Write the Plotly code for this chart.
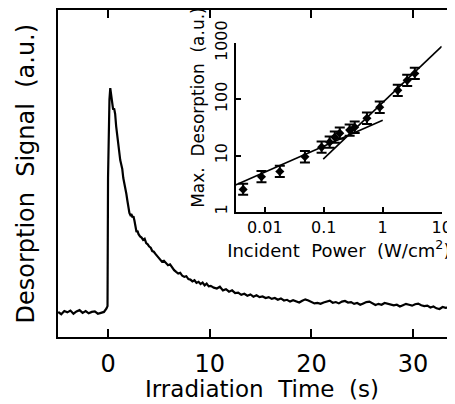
import plotly.graph_objects as go

# ---- main transient (time in s, signal in a.u., baseline = 0, peak = 1) ----
time_s = [-4.9, -4.6, -4.3, -4.0, -3.7, -3.4, -3.1, -2.8, -2.5, -2.2, -1.9, -1.6, -1.3, -1.0, -0.7, -0.4, -0.15,
          -0.05, 0.0, 0.06, 0.14, 0.22, 0.3, 0.4, 0.5, 0.6, 0.7, 0.8, 0.9, 1.0, 1.1, 1.2, 1.3, 1.4, 1.5, 1.6, 1.7,
          1.8, 1.9, 2.0, 2.1, 2.2, 2.3, 2.4, 2.5, 2.6, 2.7, 2.8, 2.9, 3.0, 3.15, 3.3, 3.45, 3.6, 3.75, 3.9, 4.05,
          4.2, 4.35, 4.5, 4.7, 4.9, 5.1, 5.3, 5.5, 5.7, 5.9, 6.1, 6.3, 6.5, 6.7, 6.9, 7.1, 7.3, 7.5, 7.7, 7.9,
          8.1, 8.3, 8.5, 8.7, 8.9, 9.1, 9.3, 9.5, 9.7, 9.9, 10.1, 10.4, 10.7, 11.0, 11.3, 11.6, 11.9, 12.2, 12.5,
          12.8, 13.1, 13.4, 13.7, 14.0, 14.3, 14.6, 14.9, 15.2, 15.5, 15.8, 16.1, 16.4, 16.7, 17.0, 17.3, 17.6,
          17.9, 18.2, 18.5, 18.8, 19.1, 19.4, 19.7, 20.0, 20.3, 20.6, 20.9, 21.2, 21.5, 21.8, 22.1, 22.4, 22.7,
          23.0, 23.3, 23.6, 23.9, 24.2, 24.5, 24.8, 25.1, 25.4, 25.7, 26.0, 26.3, 26.6, 26.9, 27.2, 27.5, 27.8,
          28.1, 28.4, 28.7, 29.0, 29.3, 29.6, 29.9, 30.2, 30.5, 30.8, 31.1, 31.4, 31.7, 32.0, 32.3, 32.6, 32.9,
          33.2, 33.5, 33.8, 34.1]
signal = [0.004, -0.006, 0.008, 0.002, 0.010, -0.004, 0.006, 0.012, 0.000, 0.008, -0.002, 0.004, 0.006, -0.004, 0.000, 0.004, 0.020,
          0.030, 0.600, 0.900, 0.950, 1.000, 0.970, 0.920, 0.905, 0.910, 0.885, 0.830, 0.790, 0.765, 0.720, 0.680, 0.660,
          0.640, 0.600, 0.580, 0.565, 0.530, 0.500, 0.470, 0.445, 0.435, 0.440, 0.425, 0.430, 0.410, 0.380, 0.360, 0.365,
          0.350, 0.340, 0.335, 0.325, 0.330, 0.310, 0.305, 0.295, 0.290, 0.275, 0.272, 0.260, 0.250, 0.240, 0.228, 0.232,
          0.220, 0.212, 0.216, 0.200, 0.190, 0.182, 0.175, 0.178, 0.165, 0.160, 0.163, 0.150, 0.148, 0.140, 0.145, 0.133,
          0.138, 0.128, 0.135, 0.122, 0.130, 0.118, 0.120, 0.112, 0.108, 0.116, 0.100, 0.105, 0.094, 0.100, 0.088, 0.090,
          0.080, 0.085, 0.076, 0.082, 0.072, 0.078, 0.070, 0.073, 0.066, 0.070, 0.062, 0.066, 0.058, 0.064, 0.055, 0.058,
          0.050, 0.056, 0.052, 0.046, 0.054, 0.060, 0.055, 0.050, 0.042, 0.044, 0.040, 0.046, 0.050, 0.054, 0.045, 0.048,
          0.042, 0.050, 0.053, 0.046, 0.048, 0.040, 0.044, 0.036, 0.042, 0.048, 0.050, 0.042, 0.035, 0.040, 0.036, 0.044,
          0.040, 0.038, 0.033, 0.036, 0.028, 0.034, 0.040, 0.036, 0.032, 0.038, 0.041, 0.034, 0.030, 0.032, 0.024, 0.028,
          0.020, 0.017, 0.026, 0.022, 0.025, 0.020, 0.023]

# ---- inset: max desorption vs incident power ----
power = [0.0043, 0.0088, 0.018, 0.048, 0.092, 0.126, 0.154, 0.187, 0.275, 0.335, 0.54, 0.89, 1.8, 2.6, 3.5]
max_des = [2.5, 4.2, 5.2, 9.5, 14.1, 17.3, 21.2, 25.0, 28.3, 31.8, 46.0, 72.0, 144.0, 217.0, 288.0]
err_up = [0.65, 1.1, 1.35, 2.5, 3.7, 4.5, 5.5, 6.5, 7.4, 8.3, 12.0, 19.0, 37.0, 56.0, 75.0]
err_down = [0.5, 0.85, 1.05, 1.95, 2.9, 3.6, 4.4, 5.2, 5.8, 6.6, 9.5, 15.0, 30.0, 45.0, 59.0]
fit_low_x = [0.0032, 1.0]
fit_low_y = [3.0, 42.5]
fit_high_x = [0.098, 10.0]
fit_high_y = [8.6, 870.0]

main_ticks = [0, 10, 20, 30]
inset_xticks = [0.01, 0.1, 1, 10]
inset_xtext = ["0.01", "0.1", "1", "10"]
inset_yticks = [1, 10, 100, 1000]
inset_ytext = ["1", "10", "100", "1000"]

FONT = "DejaVu Sans"
fig = go.Figure()

fig.add_trace(go.Scatter(x=time_s, y=signal, mode="lines",
                         line=dict(color="black", width=2.2), xaxis="x", yaxis="y"))

fig.add_trace(go.Scatter(x=fit_low_x, y=fit_low_y, mode="lines",
                         line=dict(color="black", width=1.6), xaxis="x2", yaxis="y2", cliponaxis=False))
fig.add_trace(go.Scatter(x=fit_high_x, y=fit_high_y, mode="lines",
                         line=dict(color="black", width=1.6), xaxis="x2", yaxis="y2", cliponaxis=False))
fig.add_trace(go.Scatter(x=power, y=max_des, mode="markers",
                         marker=dict(color="black", size=7, symbol="diamond"),
                         error_y=dict(type="data", symmetric=False, array=err_up, arrayminus=err_down,
                                      color="black", thickness=2, width=5),
                         xaxis="x2", yaxis="y2", cliponaxis=False))

# page body adds an 8px offset, so the figure is 8px smaller and margins shifted
fig.update_layout(
    width=447, height=396,
    margin=dict(l=50, r=0, t=2, b=66.5, autoexpand=False),
    paper_bgcolor="white", plot_bgcolor="white",
    showlegend=False,
    font=dict(family=FONT, color="black"),
    xaxis=dict(range=[-4.92, 34.12], tickvals=main_ticks, ticks="inside", ticklen=8, tickwidth=1.5,
               tickcolor="black", showline=True, linewidth=2, linecolor="black", mirror="ticks",
               showgrid=False, zeroline=False, tickfont=dict(size=24), ticklabelstandoff=4,
               automargin=False),
    yaxis=dict(range=[-0.1076, 1.348], showticklabels=False, ticks="", showline=True, linewidth=2,
               linecolor="black", showgrid=False, zeroline=False, automargin=False),
    xaxis2=dict(type="log", range=[-2.49, 1.0], domain=[0.448, 0.9665], anchor="y2",
                tickvals=inset_xticks, ticktext=inset_xtext, ticks="inside", ticklen=5, tickwidth=1.5,
                tickcolor="black", showline=True, linewidth=2, linecolor="black", showgrid=False,
                zeroline=False, tickfont=dict(size=16), ticklabelstandoff=0, automargin=False,
                title=dict(text="Incident  Power  (W/cm<sup>2</sup>)", font=dict(size=18), standoff=2)),
    yaxis2=dict(type="log", range=[0, 3], domain=[0.383, 0.899], anchor="x2",
                tickvals=inset_yticks, ticktext=inset_ytext, tickangle=-90, ticks="inside", ticklen=5,
                tickwidth=1.5, tickcolor="black", showline=True, linewidth=2, linecolor="black",
                showgrid=False, zeroline=False, tickfont=dict(size=16), ticklabelstandoff=0,
                automargin=False),
    annotations=[
        dict(text="Irradiation  Time  (s)", xref="paper", yref="paper", x=(262 - 58) / 397,
             y=(337.5 - 390) / 327.5, xanchor="center", yanchor="middle", showarrow=False,
             font=dict(size=23), borderpad=0),
        dict(text="Desorption  Signal  (a.u.)", xref="paper", yref="paper", x=-0.083, y=0.5,
             xanchor="center", yanchor="middle", textangle=-90, showarrow=False, font=dict(size=24)),
        dict(text="Max.  Desorption  (a.u.)", xref="paper", yref="paper", x=(198 - 58) / 397,
             y=(337.5 - 108) / 327.5, xanchor="center", yanchor="middle", textangle=-90,
             showarrow=False, font=dict(size=17)),
    ],
)

fig.write_html("out.html")
